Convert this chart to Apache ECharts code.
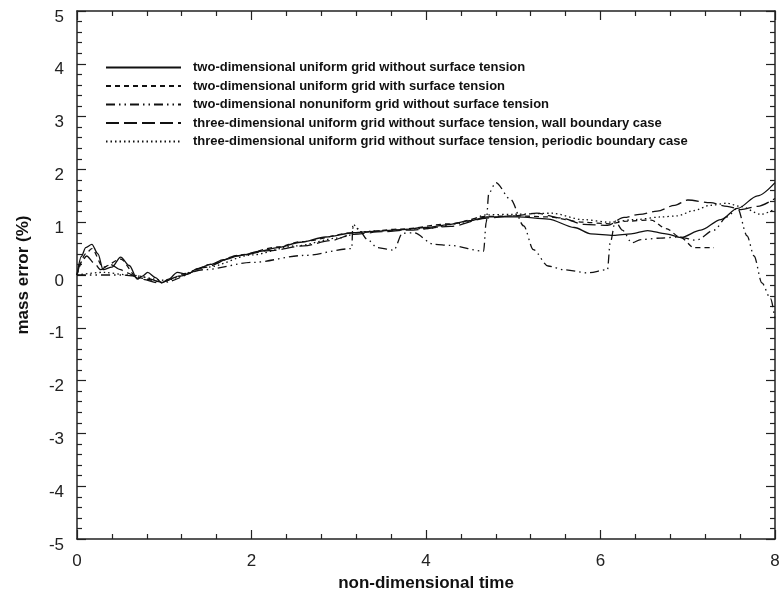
<!DOCTYPE html>
<html>
<head>
<meta charset="utf-8">
<script src="https://cdn.jsdelivr.net/npm/echarts@6/dist/echarts.min.js"></script>
<style>html,body{margin:0;padding:0;background:#fff;}#c{width:780px;height:593px;}</style>
</head>
<body>
<div id="c"></div>
<script>
var seriesNames = [
  'two-dimensional uniform grid without surface tension',
  'two-dimensional uniform grid with surface tension',
  'two-dimensional nonuniform grid without surface tension',
  'three-dimensional uniform grid without surface tension, wall boundary case',
  'three-dimensional uniform grid without surface tension, periodic boundary case'
];
var xTicks = [0, 2, 4, 6, 8];
var yTicks = [-5, -4, -3, -2, -1, 0, 1, 2, 3, 4, 5];

var t1 = [0,0.05,0.1,0.17,0.24,0.3,0.4,0.5,0.6,0.69,0.75,0.81,0.9,0.97,1.05,1.15,1.26,1.38,1.53,1.68,1.87,2.1,2.3,2.56,2.85,3.17,3.45,3.71,4.0,4.28,4.5,4.7,5.05,5.4,5.7,5.89,6.15,6.35,6.54,6.75,6.92,7.15,7.38,7.57,7.8,8.0];
var v1 = [0,0.35,0.52,0.58,0.4,0.1,0.15,0.34,0.18,-0.08,-0.02,0.05,-0.05,-0.15,-0.08,0.05,0.01,0.12,0.2,0.29,0.37,0.45,0.52,0.62,0.72,0.8,0.83,0.86,0.9,0.96,1.03,1.1,1.1,1.06,0.9,0.78,0.75,0.78,0.84,0.78,0.71,0.85,1.05,1.26,1.5,1.75];

var t2 = [0,0.1,0.17,0.3,0.5,0.69,0.97,1.26,1.53,1.87,2.3,2.56,3.17,3.71,4.28,4.7,5.05,5.4,5.8,6.1,6.3,6.58,6.75,6.92,7.07,7.3];
var v2 = [0,0.4,0.5,0.15,0.3,-0.05,-0.13,0.03,0.2,0.38,0.53,0.63,0.8,0.87,0.97,1.11,1.12,1.1,1.0,0.97,1.02,1.04,0.88,0.71,0.52,0.52];

var t3 = [0,0.5,0.7,0.99,1.45,2.02,2.6,3.15,3.16,3.22,3.33,3.44,3.63,3.73,3.86,4.09,4.28,4.66,4.69,4.72,4.8,4.97,5.12,5.23,5.4,5.58,5.85,6.08,6.11,6.17,6.25,6.36,6.46,6.69,6.9,7.1,7.3,7.45,7.57,7.68,7.76,7.85,7.95,8.0];
var v3 = [0,0,-0.02,-0.14,0.1,0.24,0.37,0.5,0.92,0.88,0.67,0.52,0.47,0.79,0.8,0.58,0.56,0.45,1.0,1.55,1.75,1.43,0.93,0.48,0.17,0.1,0.04,0.1,0.6,1.02,0.85,0.61,0.67,0.7,0.72,0.66,0.85,1.1,1.27,0.74,0.36,-0.15,-0.45,-0.85];

var t4 = [0,0.05,0.11,0.2,0.27,0.38,0.5,0.57,0.73,0.95,1.18,1.45,1.83,2.2,2.6,2.9,3.17,3.5,3.8,4.28,4.7,5.0,5.27,5.55,5.81,6.08,6.27,6.45,6.65,6.85,7.0,7.26,7.45,7.61,7.8,8.0];
var v4 = [0,0.25,0.36,0.22,0.1,0.2,0.1,0.04,-0.08,-0.15,-0.02,0.14,0.36,0.46,0.55,0.65,0.77,0.82,0.85,0.92,1.08,1.12,1.17,1.08,0.96,0.94,1.09,1.15,1.21,1.32,1.42,1.37,1.3,1.24,1.3,1.45];

var t5 = [0,0.3,0.6,1.0,1.5,2.0,2.5,3.0,3.15,3.17,3.25,3.5,4.0,4.4,4.7,5.0,5.44,5.8,6.1,6.4,6.7,6.88,7.07,7.26,7.45,7.6,7.84,8.0];
var v5 = [0,0.05,0.0,-0.1,0.15,0.38,0.55,0.7,0.76,0.95,0.82,0.84,0.88,0.98,1.14,1.15,1.17,1.05,1.0,1.05,1.1,1.12,1.22,1.32,1.36,1.3,1.15,1.25];

var dashes = ['solid', [5, 4], [9, 4, 1.5, 4, 1.5, 4], [13, 5], [1.5, 3]];
var ts = [t1, t2, t3, t4, t5];
var vs = [v1, v2, v3, v4, v5];

function zip(a, b) { return a.map(function (x, i) { return [x, b[i]]; }); }

var chart = echarts.init(document.getElementById('c'), null, { renderer: 'canvas' });
var FONT = '"Liberation Sans", Arial, Helvetica, sans-serif';

var series = seriesNames.map(function (n, i) {
  return {
    name: n,
    type: 'line',
    data: zip(ts[i], vs[i]),
    showSymbol: false,
    symbol: 'none',
    smooth: 0.3,
    smoothMonotone: 'x',
    lineStyle: { color: '#111', width: 1.3, type: dashes[i] },
    itemStyle: { color: '#111' },
    animation: false,
    z: 3
  };
});

function axisCommon() {
  return {
    axisLine: { show: true, onZero: false, lineStyle: { color: '#222', width: 1.5 } },
    axisTick: { show: true, inside: true, length: 9, lineStyle: { color: '#222', width: 1.2 } },
    minorTick: { show: true, splitNumber: 5, length: 5, lineStyle: { color: '#222', width: 1.2 } },
    splitLine: { show: false }
  };
}

var xb = Object.assign(axisCommon(), {
  type: 'value', min: 0, max: 8, interval: 2, position: 'bottom',
  name: 'non-dimensional time', nameLocation: 'middle', nameGap: 31,
  nameTextStyle: { fontFamily: FONT, fontWeight: 'bold', fontSize: 17, color: '#111' },
  axisLabel: { fontFamily: FONT, fontSize: 17, color: '#222', margin: 14,
    formatter: function (v) { return xTicks.indexOf(v) >= 0 ? String(v) : ''; } }
});
var xt = Object.assign(axisCommon(), {
  type: 'value', min: 0, max: 8, interval: 2, position: 'top', axisLabel: { show: false }
});
var yl = Object.assign(axisCommon(), {
  type: 'value', min: -5, max: 5, interval: 1, position: 'left',
  name: 'mass error (%)', nameLocation: 'middle', nameGap: 45, nameRotate: 90,
  nameTextStyle: { fontFamily: FONT, fontWeight: 'bold', fontSize: 17, color: '#111' },
  axisLabel: { fontFamily: FONT, fontSize: 17, color: '#222', margin: 13,
    verticalAlign: 'top', lineHeight: 12,
    formatter: function (v) { return yTicks.indexOf(v) >= 0 ? String(v) : ''; } }
});
var yr = Object.assign(axisCommon(), {
  type: 'value', min: -5, max: 5, interval: 1, position: 'right', axisLabel: { show: false }
});

chart.setOption({
  backgroundColor: '#fff',
  animation: false,
  grid: { left: 77, right: 5, top: 11, bottom: 54, outerBoundsMode: 'none', containLabel: false },
  legend: {
    orient: 'vertical',
    left: 100,
    top: 56,
    itemWidth: 75,
    itemHeight: 12,
    itemGap: 5.5,
    itemStyle: { opacity: 0 },
    textStyle: { fontFamily: FONT, fontWeight: 'bold', fontSize: 13, lineHeight: 13, color: '#111', padding: [0, 0, 0, 7] },
    data: seriesNames
  },
  xAxis: [xb, xt],
  yAxis: [yl, yr],
  series: series
});
</script>
</body>
</html>
